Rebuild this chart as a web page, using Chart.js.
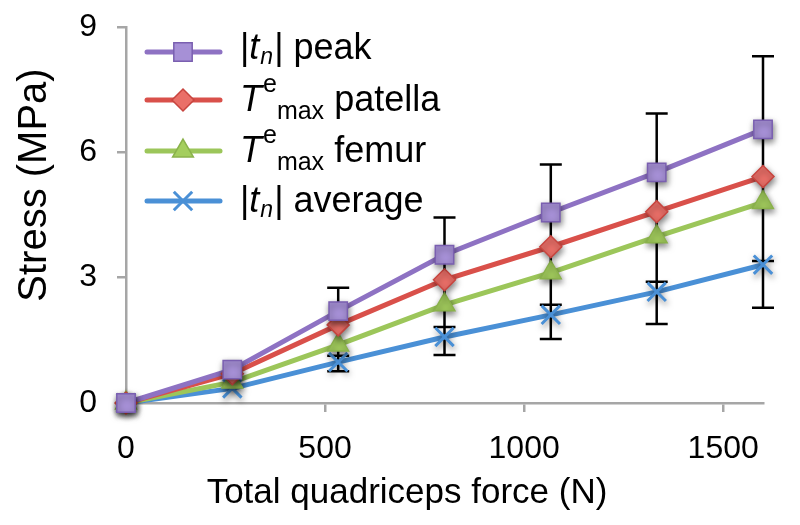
<!DOCTYPE html>
<html lang="en">
<head>
<meta charset="UTF-8" />
<script src="https://cdn.jsdelivr.net/npm/chart.js@4.4.1/dist/chart.umd.min.js"></script>
<title>stress vs quadriceps force</title>
<style>
  body { margin: 0; padding: 0; background: #fff; }
  .container { width: 800px; height: 525px; }
</style>
</head>
<body>
<div class="container"><canvas id="chart"></canvas></div>
<script>
const forces = [0, 267, 533, 800, 1067, 1333, 1600]
const peak = [0, 0.8, 2.2, 3.55, 4.56, 5.52, 6.55]
const patella = [0, 0.7, 1.87, 2.95, 3.74, 4.58, 5.42]
const femur = [0, 0.5, 1.39, 2.35, 3.12, 3.98, 4.8]
const average = [0, 0.35, 0.98, 1.58, 2.11, 2.66, 3.31]
// error bar ends (peak upper, average upper, average lower)
const peakErrTop = [null, null, 2.76, 4.44, 5.71, 6.93, 8.3]
const avgErrTop = [null, null, 1.13, 1.82, 2.35, 2.9, 3.4]
const avgErrLow = [null, null, 0.76, 1.15, 1.53, 1.89, 2.28]
const xTicks = [0, 500, 1000, 1500]
const yTicks = [0, 3, 6, 9]

const FONT = '"Liberation Sans", Arial, Helvetica, sans-serif'
const AXIS = '#a6a6a6'

const series = [
  { data: peak, line: '#8e72c3', fill: '#a690d6', border: '#7a5fb0', style: 'rect', r: 13 },
  { data: patella, line: '#d9504a', fill: '#ea6f68', border: '#c8453f', style: 'rectRot', r: 11 },
  { data: femur, line: '#9cc65a', fill: '#a4ce5e', border: '#8ab24b', style: 'triangle', r: 12 },
  { data: average, line: '#4a90d6', fill: '#4a90d6', border: '#4a90d6', style: 'crossRot', r: 13 },
]

const toPoints = (ys) => ys.map((y, i) => ({ x: forces[i], y }))

const datasets = []
series.forEach((s) => {
  datasets.push({
    data: toPoints(s.data),
    borderColor: s.line,
    borderWidth: 5,
    pointRadius: 0,
    order: 2,
    clip: false,
  })
})
series.forEach((s) => {
  datasets.push({
    data: toPoints(s.data),
    showLine: false,
    pointStyle: s.style,
    pointRadius: s.r,
    pointBackgroundColor: s.fill,
    pointBorderColor: s.border,
    pointBorderWidth: s.style === 'crossRot' ? 3 : 1.5,
    order: 1,
    clip: false,
    shadow: true,
  })
})

const errorBars = {
  id: 'errorBars',
  beforeDatasetsDraw(chart) {
    const { ctx, scales: { x, y } } = chart
    ctx.save()
    ctx.strokeStyle = '#000'
    ctx.lineWidth = 2.5
    forces.forEach((f, i) => {
      if (peakErrTop[i] == null) return
      const px = x.getPixelForValue(f)
      const top = y.getPixelForValue(peakErrTop[i])
      const low = y.getPixelForValue(avgErrLow[i])
      ctx.beginPath()
      ctx.moveTo(px, top)
      ctx.lineTo(px, low)
      ;[peakErrTop[i], avgErrTop[i], avgErrLow[i]].forEach((v) => {
        const py = y.getPixelForValue(v)
        ctx.moveTo(px - 11, py)
        ctx.lineTo(px + 11, py)
      })
      ctx.stroke()
    })
    ctx.restore()
  },
}

const shadows = {
  id: 'shadows',
  beforeDatasetDraw(chart, args) {
    if (!args.meta._dataset.shadow) return
    const ctx = chart.ctx
    ctx.save()
    ctx.shadowColor = 'rgba(0,0,0,0.5)'
    ctx.shadowBlur = 6
    ctx.shadowOffsetX = 1
    ctx.shadowOffsetY = 3
  },
  afterDatasetDraw(chart, args) {
    if (!args.meta._dataset.shadow) return
    chart.ctx.restore()
  },
}

// draws text made of pieces (italic, sub/superscript)
function richText(ctx, x, base, parts) {
  parts.forEach((p) => {
    ctx.font = (p.italic ? 'italic ' : '') + p.size + 'px ' + FONT
    ctx.fillText(p.text, x, base + (p.dy || 0))
    x += ctx.measureText(p.text).width + (p.gap || 0)
  })
}

const legendRows = [
  [{ text: '|', size: 36 }, { text: 't', size: 36, italic: true, gap: 1 }, { text: 'n', size: 23, italic: true, dy: 5, gap: 1 }, { text: '| peak', size: 36 }],
  [{ text: 'T', size: 36, italic: true, gap: 1 }, { text: 'e', size: 25, dy: -19 }, { text: 'max', size: 25, dy: 8, gap: 0 }, { text: ' patella', size: 36 }],
  [{ text: 'T', size: 36, italic: true, gap: 1 }, { text: 'e', size: 25, dy: -19 }, { text: 'max', size: 25, dy: 8, gap: 0 }, { text: ' femur', size: 36 }],
  [{ text: '|', size: 36 }, { text: 't', size: 36, italic: true, gap: 1 }, { text: 'n', size: 23, italic: true, dy: 5, gap: 1 }, { text: '| average', size: 36 }],
]
const legendBase = [59, 111, 162, 212]
const legendLine = [52, 100, 151, 201]

const customText = {
  id: 'customText',
  afterDraw(chart) {
    const ctx = chart.ctx
    ctx.save()
    // legend
    series.forEach((s, i) => {
      const ly = legendLine[i]
      ctx.strokeStyle = s.line
      ctx.lineWidth = 5
      ctx.lineCap = 'round'
      ctx.beginPath()
      ctx.moveTo(147, ly)
      ctx.lineTo(220, ly)
      ctx.stroke()
      ctx.lineCap = 'butt'
      ctx.fillStyle = s.fill
      ctx.strokeStyle = s.border
      ctx.lineWidth = s.style === 'crossRot' ? 3 : 1.5
      Chart.helpers.drawPoint(ctx, { pointStyle: s.style, radius: s.r, rotation: 0, borderWidth: ctx.lineWidth }, 183, ly)
      ctx.fillStyle = '#000'
      ctx.textBaseline = 'alphabetic'
      ctx.textAlign = 'left'
      richText(ctx, 240, legendBase[i], legendRows[i])
    })
    // axis titles
    ctx.fillStyle = '#000'
    ctx.textAlign = 'center'
    ctx.font = '35px ' + FONT
    ctx.fillText('Total quadriceps force (N)', 407, 503)
    ctx.translate(46, 185)
    ctx.rotate(-Math.PI / 2)
    ctx.font = '40px ' + FONT
    ctx.fillText('Stress (MPa)', 0, 0)
    ctx.restore()
  },
}

new Chart(document.getElementById('chart'), {
  type: 'line',
  data: { datasets },
  plugins: [errorBars, shadows, customText],
  options: {
    responsive: true,
    maintainAspectRatio: false,
    animation: false,
    layout: { padding: { top: 27, right: 37, left: 0, bottom: 0 } },
    plugins: { legend: { display: false }, tooltip: { enabled: false } },
    scales: {
      x: {
        type: 'linear',
        min: 0,
        max: 1600,
        afterBuildTicks: (ax) => { ax.ticks = xTicks.map((v) => ({ value: v })) },
        afterFit: (ax) => { ax.height = 122; ax.paddingLeft = 0; ax.paddingRight = 0 },
        border: { color: AXIS, width: 2.5 },
        grid: { drawOnChartArea: false, color: AXIS, lineWidth: 2.5, tickLength: 9 },
        ticks: { font: { size: 32, family: FONT }, color: '#000', padding: 18, maxRotation: 0, callback: (v) => String(v) },
      },
      y: {
        min: 0,
        max: 9,
        afterBuildTicks: (ax) => { ax.ticks = yTicks.map((v) => ({ value: v })) },
        afterFit: (ax) => { ax.width = 126; ax.paddingTop = 0; ax.paddingBottom = 0 },
        border: { color: AXIS, width: 2.5 },
        grid: { drawOnChartArea: false, color: AXIS, lineWidth: 2.5, tickLength: 9 },
        ticks: { font: { size: 32, family: FONT }, color: '#000', padding: 20, callback: (v) => String(v) },
      },
    },
  },
})
</script>
</body>
</html>
